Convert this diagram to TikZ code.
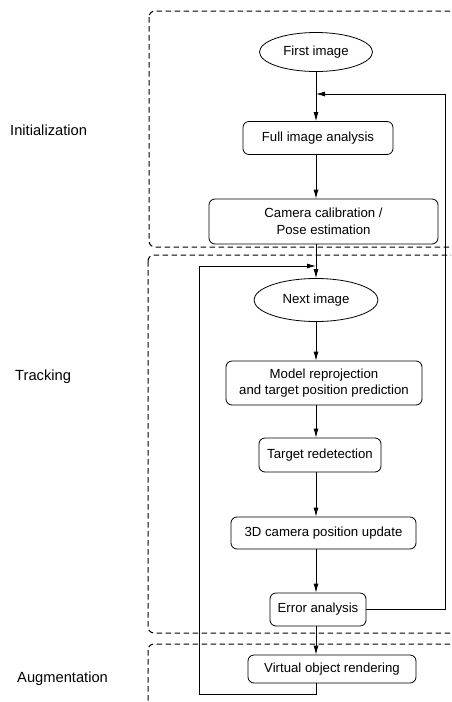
\documentclass[tikz,border=0pt]{standalone}
\usepackage{fontspec}
\setmainfont{Liberation Sans}
\usetikzlibrary{arrows.meta,shapes.geometric}

\tikzset{
  stage/.style={draw, line width=1pt, dash pattern=on 5.5pt off 3.5pt, rounded corners=6pt},
  procbox/.style={draw, line width=0.8pt, rounded corners=6pt, inner sep=0pt, align=center,
                  font=\fontsize{13.2}{16.7}\selectfont},
  ovalbox/.style={draw, line width=0.8pt, ellipse, inner sep=0pt,
                  font=\fontsize{13.2}{16.7}\selectfont},
  phase/.style={anchor=west, inner sep=0pt, font=\fontsize{14.7}{18}\selectfont},
  flow/.style={line width=0.8pt, -{Latex[length=9pt,width=5pt]}},
  wire/.style={line width=0.8pt}
}

\begin{document}
\begin{tikzpicture}[x=1pt,y=-1pt]
\useasboundingbox (0,0) rectangle (451,702);
\clip (0,0) rectangle (451,702);

% stage frames (open to the right edge)
\draw[stage] (149,11) rectangle (480,247);
\draw[stage] (148,255) rectangle (480,633);
\draw[stage] (148,644) rectangle (480,740);

% stage names
\node[phase] (lInit) at (10,130) {Initialization};
\node[phase] (lTrack) at (15,377) {Tracking};
\node[phase] (lAug) at (17,679) {Augmentation};

% process steps
\node[ovalbox, minimum width=113pt, minimum height=39pt] (first) at (316,52) {First image};
\node[procbox, minimum width=150pt, minimum height=33pt] (fia) at (318,138) {Full image analysis};
\node[procbox, minimum width=229pt, minimum height=45pt] (cam) at (323.5,221.5) {Camera calibration /\\Pose estimation};
\node[ovalbox, minimum width=124pt, minimum height=43pt] (next) at (316,300) {Next image};
\node[procbox, minimum width=196pt, minimum height=44pt] (model) at (324,383) {Model reprojection\\and target position prediction};
\node[procbox, minimum width=122pt, minimum height=34pt] (redet) at (320,455) {Target redetection};
\node[procbox, minimum width=185pt, minimum height=32pt] (upd) at (323.5,533) {3D camera position update};
\node[procbox, minimum width=96pt, minimum height=33pt] (err) at (318,609.5) {Error analysis};
\node[procbox, minimum width=168pt, minimum height=28pt] (virt) at (332,669) {Virtual object rendering};

% loop junctions
\coordinate (reinit) at (316,94);
\coordinate (reinitR) at (445,94);
\coordinate (loopin) at (316,266);
\coordinate (loopL) at (199,266);
\coordinate (loopB) at (316,694);
\coordinate (loopBL) at (199,694);

% main flow
\draw[flow] (first.south) -- (fia.north -| first);
\draw[flow] (fia.south -| first) -- (cam.north -| first);
\draw[wire] (cam.south -| first) -- (loopin);
\draw[flow] (loopin) -- (next.north);
\draw[flow] (next.south) -- (model.north -| first);
\draw[flow] (model.south -| first) -- (redet.north -| first);
\draw[flow] (redet.south -| first) -- (upd.north -| first);
\draw[flow] (upd.south -| first) -- (err.north -| first);
\draw[flow] (err.south -| first) -- (virt.north -| first);

% re-initialisation on error
\draw[flow] (err.east) -| (reinitR) -- (reinit);

% tracking loop back to next image
\draw[flow] (virt.south -| first) -- (loopB) -- (loopBL) -- (loopL) -- (loopin);
\end{tikzpicture}
\end{document}
